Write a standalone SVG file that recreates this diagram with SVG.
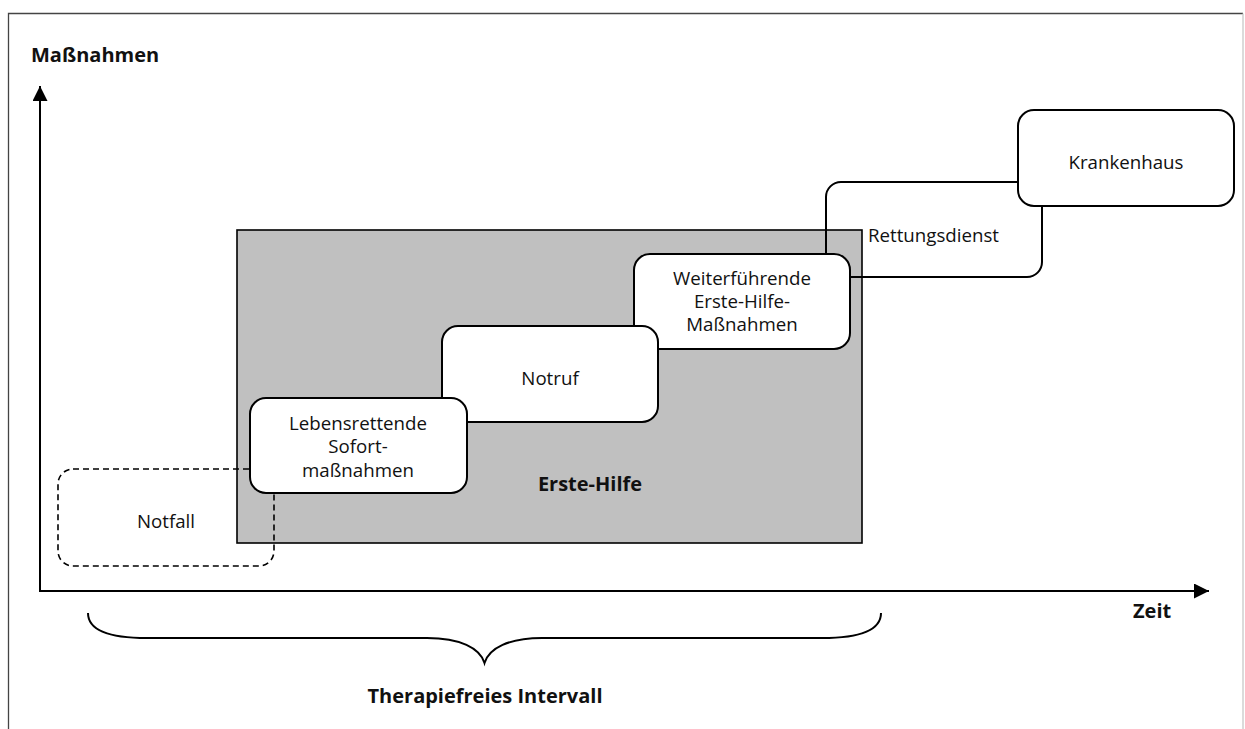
<svg xmlns="http://www.w3.org/2000/svg" width="1245" height="729" viewBox="0 0 1245 729">
<defs>
<style>
.t{font-family:"Open Sans","Liberation Sans",sans-serif;font-size:18.7px;fill:#111;text-anchor:middle}
.b{font-family:"Open Sans","Liberation Sans",sans-serif;font-size:20px;font-weight:bold;fill:#111}
.box{fill:#fff;stroke:#000;stroke-width:2}
.open{fill:none;stroke:#000;stroke-width:2}
.ax{fill:none;stroke:#000;stroke-width:2}
</style>
<marker id="arr" markerUnits="userSpaceOnUse" markerWidth="16" markerHeight="16" refX="15" refY="7.5" orient="auto">
<path d="M0,0 L15,7.5 L0,15 Z" fill="#000"/>
</marker>
</defs>
<rect width="1245" height="729" fill="#fff"/>
<g id="frame">
<path d="M8.5,729 V13.5 H1243" fill="none" stroke="#444" stroke-width="1.3"/>
<path d="M1243,13.5 V729" fill="none" stroke="#c8c8c8" stroke-width="1.3"/>
</g>
<g id="erste-hilfe">
<rect x="237" y="230" width="625" height="313" fill="#c0c0c0" stroke="#000" stroke-width="1.6"/>
<text class="b" x="590" y="491" text-anchor="middle">Erste-Hilfe</text>
</g>
<g id="notfall">
<rect x="58" y="469" width="216" height="97" rx="15" fill="none" stroke="#000" stroke-width="1.6" stroke-dasharray="6,4"/>
<text class="t" x="166" y="528">Notfall</text>
</g>
<g id="rettungsdienst">
<rect x="826" y="182" width="216" height="95" rx="15" class="open"/>
<text class="t" x="868" y="242" style="text-anchor:start">Rettungsdienst</text>
</g>
<g id="weiterfuehrende">
<rect x="634" y="254" width="216" height="95" rx="16" class="box"/>
<text class="t" x="742" y="285">Weiterführende</text>
<text class="t" x="742" y="308">Erste-Hilfe-</text>
<text class="t" x="742" y="331">Maßnahmen</text>
</g>
<g id="notruf">
<rect x="442" y="326" width="216" height="96" rx="16" class="box"/>
<text class="t" x="550" y="385">Notruf</text>
</g>
<g id="lebensrettende">
<rect x="250" y="398" width="217" height="95" rx="16" class="box"/>
<text class="t" x="358" y="430">Lebensrettende</text>
<text class="t" x="358" y="453">Sofort-</text>
<text class="t" x="358" y="477">maßnahmen</text>
</g>
<g id="krankenhaus">
<rect x="1018" y="110" width="216" height="96" rx="16" class="box"/>
<text class="t" x="1126" y="169">Krankenhaus</text>
</g>
<g id="connectors">
<path class="ax" d="M40,591 V86" marker-end="url(#arr)"/>
<path class="ax" d="M39,591 H1209" marker-end="url(#arr)"/>
<path d="M88,613 C88,630 110,638 147,638 L427,638 C460,638 480,648 484.5,663 C489,648 509,638 542,638 L822,638 C859,638 881,630 881,613" fill="none" stroke="#000" stroke-width="2"/>
</g>
<g id="labels">
<text class="b" x="31" y="62">Maßnahmen</text>
<text class="b" x="1133" y="618">Zeit</text>
<text class="b" x="485" y="703" text-anchor="middle">Therapiefreies Intervall</text>
</g>
</svg>
